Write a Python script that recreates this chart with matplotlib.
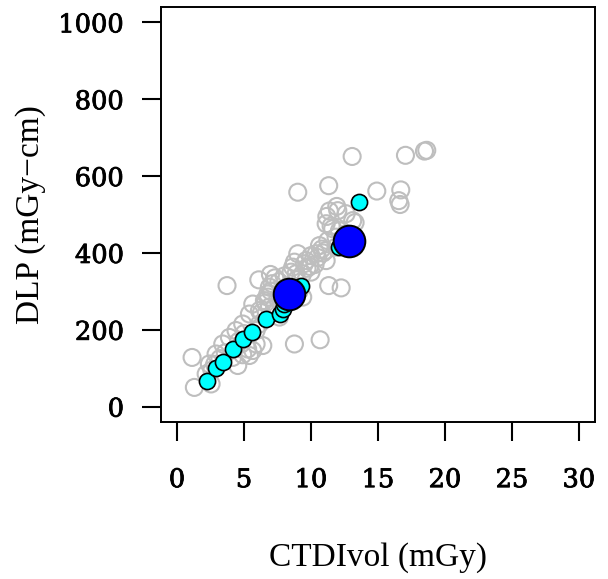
import numpy as np
import matplotlib.pyplot as plt
import matplotlib.patheffects as pe

# data
all_ctdi = [1.12, 1.29, 2.54, 3.73, 4.53, 8.76, 10.68, 11.32, 12.25, 9.01,
            11.32, 13.07, 14.91, 17.05, 18.47, 18.64, 16.70, 16.55, 16.65, 11.92,
            11.37, 13.29, 6.10, 6.97, 9.01, 10.00, 11.08, 11.18, 12.00, 11.62,
            12.12, 10.38, 10.63, 9.63, 11.13, 8.63, 8.51, 8.89, 9.38, 6.15,
            6.52, 6.77, 6.89, 5.65, 5.40, 4.90, 4.40, 3.91, 3.41, 2.91,
            2.41, 2.17, 4.78, 5.27, 5.65, 6.40, 5.90, 4.90, 5.40, 4.15,
            7.52, 7.89, 7.27, 6.89, 7.64, 6.15, 5.90, 9.13, 9.38, 10.00,
            8.76, 11.25, 11.87, 12.62, 11.87, 11.13, 13.11, 12.62, 8.90, 9.70,
            10.30, 10.90, 7.10, 7.00, 6.60, 6.30, 5.00, 4.60, 3.20, 2.80,
            2.60, 3.60, 8.20, 8.40, 7.80, 10.80, 12.40, 12.90, 9.90, 11.50,
            7.30, 7.60, 8.00, 9.50, 10.50, 6.80]
all_dlp = [128, 50, 59, 315, 107, 163, 174, 315, 309, 558,
           575, 651, 561, 654, 665, 667, 564, 536, 526, 521,
           509, 479, 330, 344, 398, 393, 406, 495, 510, 463,
           458, 398, 419, 380, 380, 363, 350, 346, 346, 250,
           276, 293, 311, 267, 241, 215, 198, 180, 163, 137,
           111, 85, 163, 150, 146, 159, 163, 135, 133, 128,
           280, 293, 259, 259, 233, 215, 198, 302, 285, 350,
           376, 432, 441, 450, 415, 476, 484, 502, 330, 360,
           370, 400, 320, 300, 270, 245, 190, 170, 125, 110,
           95, 140, 310, 290, 265, 410, 420, 440, 365, 470,
           335, 325, 340, 372, 388, 285]

site_ctdi = [2.21, 2.91, 3.41, 4.20, 4.95, 5.57, 6.65, 7.69, 7.94, 8.00,
             8.10, 9.26, 12.12, 12.60, 13.56]
site_dlp = [66, 100, 115, 150, 176, 195, 227, 240, 254, 268,
            280, 315, 415, 425, 532]

median_ctdi = [8.34, 12.87]
median_dlp = [293, 430]

xticks = [0, 5, 10, 15, 20, 25, 30]
yticks = [0, 200, 400, 600, 800, 1000]

fig = plt.figure(figsize=(6.08, 5.79), dpi=100)
ax = fig.add_axes([161 / 608, 1 - 422 / 579, 434 / 608, 415 / 579])

ax.scatter(all_ctdi, all_dlp, s=150, facecolors='none', edgecolors='#bebebe',
           linewidths=1.5, zorder=2)
ax.scatter(site_ctdi, site_dlp, s=135, facecolors='cyan', edgecolors='black',
           linewidths=1.2, zorder=3)
ax.scatter(median_ctdi, median_dlp, s=520, facecolors='blue', edgecolors='black',
           linewidths=1.4, zorder=4)

ax.set_xlim(-1.2, 31.2)
ax.set_ylim(-40, 1040)
ax.set_xticks(xticks)
ax.set_yticks(yticks)
ax.set_xticklabels([str(v) for v in xticks], family='DejaVu Serif', fontsize=18.5)
ax.set_yticklabels([str(v) for v in yticks], family='DejaVu Serif', fontsize=18.5)
# heavier digits, like the reference face
for lab in ax.get_xticklabels() + ax.get_yticklabels():
    lab.set_path_effects([pe.withStroke(linewidth=0.6, foreground='black')])
ax.tick_params(axis='both', length=13.5, width=1.5, direction='out')
ax.tick_params(axis='x', pad=19)
ax.tick_params(axis='y', pad=13)
for sp in ax.spines.values():
    sp.set_linewidth(1.4)

ax.set_xlabel('CTDIvol (mGy)', family='Liberation Serif', fontsize=24, labelpad=36)
ax.set_ylabel('DLP (mGy\u2212cm)', family='Liberation Serif', fontsize=24, labelpad=9)

fig.savefig('out.png', dpi=100)
